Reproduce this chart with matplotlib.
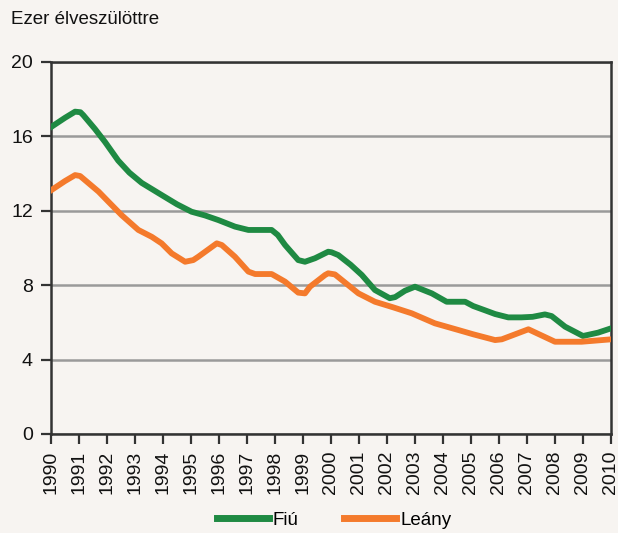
import matplotlib
matplotlib.use("Agg")
import matplotlib.pyplot as plt
from matplotlib import font_manager

fams = {f.name for f in font_manager.fontManager.ttflist}
FONT = ['Liberation Sans Narrow', 'Liberation Sans', 'DejaVu Sans'] if 'Liberation Sans Narrow' in fams else ['Liberation Sans', 'DejaVu Sans']
plt.rcParams['font.family'] = FONT

# Data
fiu_x = [1990.0, 1990.5, 1990.86, 1991.05, 1991.15, 1991.57, 1991.93, 1992.4, 1992.8, 1993.24,
         1993.95, 1994.5, 1995.02, 1995.5, 1995.98, 1996.57, 1997.05, 1997.88, 1998.1, 1998.36,
         1998.83, 1999.07, 1999.43, 1999.9, 2000.02, 2000.26, 2000.7, 2001.1, 2001.57, 2002.1,
         2002.29, 2002.64, 2003.0, 2003.6, 2004.13, 2004.79, 2005.08, 2005.5, 2005.86, 2006.33,
         2006.8, 2007.2, 2007.64, 2007.88, 2008.36, 2009.0, 2009.54, 2010.0]
fiu_y = [16.5, 17.0, 17.33, 17.3, 17.15, 16.4, 15.7, 14.7, 14.05, 13.5,
         12.85, 12.35, 11.95, 11.75, 11.5, 11.15, 10.97, 10.97, 10.7, 10.16,
         9.35, 9.26, 9.45, 9.8, 9.77, 9.62, 9.1, 8.55, 7.74, 7.3,
         7.36, 7.7, 7.92, 7.56, 7.11, 7.11, 6.88, 6.65, 6.45, 6.27,
         6.27, 6.3, 6.43, 6.34, 5.77, 5.27, 5.45, 5.68]

lea_x = [1990.0, 1990.5, 1990.86, 1991.04, 1991.7, 1992.05, 1992.52, 1993.12, 1993.6, 1993.95,
         1994.31, 1994.79, 1995.08, 1995.26, 1995.92, 1996.1, 1996.57, 1997.05, 1997.29, 1997.88,
         1998.36, 1998.83, 1999.07, 1999.25, 1999.79, 1999.9, 2000.14, 2000.98, 2001.57, 2002.2,
         2002.88, 2003.71, 2004.55, 2005.08, 2005.86, 2006.1, 2007.05, 2008.0, 2008.95, 2010.0]
lea_y = [13.1, 13.6, 13.92, 13.87, 13.03, 12.49, 11.77, 10.97, 10.6, 10.25,
         9.71, 9.26, 9.35, 9.53, 10.25, 10.16, 9.53, 8.73, 8.6, 8.6,
         8.19, 7.6, 7.56, 7.92, 8.55, 8.64, 8.58, 7.56, 7.11, 6.82,
         6.49, 5.95, 5.59, 5.36, 5.05, 5.09, 5.63, 4.96, 4.96, 5.09]

year_ticks = list(range(1990, 2011))
y_ticks = [0, 4, 8, 12, 16, 20]
y_label = "Ezer élveszülöttre"
series_names = ["Fiú", "Leány"]

BG = '#f7f4f1'
GREEN = '#1f8a43'
ORANGE = '#f47a2c'
DARK = '#333333'

fig = plt.figure(figsize=(6.18, 5.33), dpi=100, facecolor=BG)
ax = fig.add_axes([51/618, 1-434/533, (611-51)/618, (434-62)/533], facecolor=BG)

ax.plot(fiu_x, fiu_y, color=GREEN, lw=4.2, solid_joinstyle='round', label=series_names[0], zorder=3)
ax.plot(lea_x, lea_y, color=ORANGE, lw=4.2, solid_joinstyle='round', label=series_names[1], zorder=3)

ax.set_xlim(1990, 2010)
ax.set_ylim(0, 20)
ax.set_yticks(y_ticks)
ax.set_xticks(year_ticks)
ax.set_xticklabels([str(y) for y in year_ticks], rotation=90, fontsize=14)
ax.set_yticklabels([str(v) for v in y_ticks], fontsize=14)
ax.yaxis.grid(True, color='#9a9a9a', lw=1.8)
ax.set_axisbelow(True)
for s in ax.spines.values():
    s.set_color(DARK)
    s.set_linewidth(1.8)
ax.tick_params(axis='both', direction='out', length=7, width=1.6, color=DARK, labelcolor='#111111')
ax.tick_params(axis='y', pad=6)
ax.tick_params(axis='x', pad=5)

fig.text(11/618, 1-20/533, y_label, fontsize=13.5, va='center', ha='left', color='#111111')

leg = fig.legend(loc='center', bbox_to_anchor=(334/618, 1-520/533), ncol=2, frameon=False,
                 fontsize=13.5, handlelength=2.8, handletextpad=0.2, columnspacing=2.4)
for l in leg.get_lines():
    l.set_linewidth(5)

fig.savefig('out.png', dpi=100, facecolor=BG)
